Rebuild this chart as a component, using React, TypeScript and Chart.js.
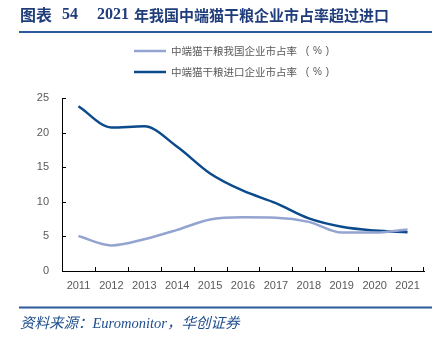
import React, { useEffect, useRef } from "react";
import { Chart, registerables } from "chart.js";

Chart.register(...registerables);

const TITLE_LABEL_CN = "图表";
const TITLE_LABEL_NUM = "54";
const TITLE_YEAR = "2021";
const TITLE_TEXT = "年我国中端猫干粮企业市占率超过进口";
const SOURCE_TEXT = "资料来源：Euromonitor，华创证券";

const years = ["2011", "2012", "2013", "2014", "2015", "2016", "2017", "2018", "2019", "2020", "2021"];
const domesticName = "中端猫干粮我国企业市占率";
const importName = "中端猫干粮进口企业市占率";
const unitParts = ["(", "%", ")"];
const domesticShare = [5.05, 3.7, 4.6, 5.95, 7.45, 7.75, 7.7, 7.1, 5.55, 5.55, 6.0];
const importShare = [23.8, 20.75, 20.9, 17.95, 14.1, 11.6, 9.8, 7.6, 6.4, 5.85, 5.6];
const yTicks = [0, 5, 10, 15, 20, 25];

const DARK = "#0b4a8b";
const LIGHT = "#94a4d1";
const NAVY = "#1f3d7a";
const GRAY = "#595959";

const decorPlugin = {
  id: "decor",
  afterDraw(chart: any) {
    const ctx = chart.ctx;
    const area = chart.chartArea;
    const xs = chart.scales.x;
    const ys = chart.scales.y;
    ctx.save();
    // title
    ctx.fillStyle = NAVY;
    ctx.textBaseline = "middle";
    ctx.textAlign = "left";
    ctx.font = "bold 16px 'Noto Sans CJK SC'";
    ctx.fillText(TITLE_LABEL_CN, 20, 15);
    ctx.font = "bold 16px 'Liberation Serif'";
    ctx.fillText(TITLE_LABEL_NUM, 62, 15);
    ctx.fillText(TITLE_YEAR, 97, 15);
    ctx.font = "bold 15px 'Noto Sans CJK SC'";
    ctx.fillText(TITLE_TEXT, 134, 15);
    ctx.strokeStyle = "#2a5a9a";
    ctx.lineWidth = 2;
    ctx.beginPath();
    ctx.moveTo(19, 32);
    ctx.lineTo(432, 32);
    ctx.stroke();
    // footer
    ctx.beginPath();
    ctx.moveTo(19, 307.5);
    ctx.lineTo(432, 307.5);
    ctx.stroke();
    ctx.fillStyle = "#1f4e8c";
    ctx.font = "italic 14.5px 'Liberation Serif', 'Noto Sans CJK SC'";
    ctx.fillText(SOURCE_TEXT, 20, 324);
    // legend
    const items = chart.data.datasets;
    const rows = [51, 72];
    items.forEach((ds: any, i: number) => {
      const y = rows[i];
      ctx.strokeStyle = ds.borderColor;
      ctx.lineWidth = 2.5;
      ctx.beginPath();
      ctx.moveTo(134, y);
      ctx.lineTo(166, y);
      ctx.stroke();
      ctx.fillStyle = GRAY;
      ctx.textAlign = "left";
      ctx.font = "10.5px 'Noto Sans CJK SC'";
      ctx.fillText(ds.label, 171, y + 0.5);
      ctx.textAlign = "center";
      ctx.font = "10px 'Liberation Sans'";
      const cx = [307.5, 317.5, 327.5];
      unitParts.forEach((p, k) => ctx.fillText(p, cx[k], y + 0.5));
    });
    // tick marks
    ctx.strokeStyle = "#000";
    ctx.lineWidth = 1;
    ctx.beginPath();
    yTicks.forEach((v) => {
      const py = Math.round(ys.getPixelForValue(v)) + 0.5;
      ctx.moveTo(area.left, py);
      ctx.lineTo(area.left + 4, py);
    });
    for (let i = 0; i < years.length - 1; i++) {
      const px = Math.round((xs.getPixelForTick(i) + xs.getPixelForTick(i + 1)) / 2) + 0.5;
      ctx.moveTo(px, area.bottom);
      ctx.lineTo(px, area.bottom - 4);
    }
    const rx = Math.round(area.right) - 0.5;
    ctx.moveTo(rx, area.bottom);
    ctx.lineTo(rx, area.bottom - 4);
    ctx.stroke();
    ctx.restore();
  },
};

export default function App() {
  const ref = useRef<HTMLCanvasElement>(null);
  useEffect(() => {
    if (!ref.current) return;
    const chart = new Chart(ref.current, {
      type: "line",
      data: {
        labels: years,
        datasets: [
          {
            label: domesticName,
            data: domesticShare,
            borderColor: LIGHT,
            backgroundColor: LIGHT,
            borderWidth: 2.5,
            pointRadius: 0,
            cubicInterpolationMode: "monotone",
          },
          {
            label: importName,
            data: importShare,
            borderColor: DARK,
            backgroundColor: DARK,
            borderWidth: 2.5,
            pointRadius: 0,
            cubicInterpolationMode: "monotone",
          },
        ],
      },
      options: {
        responsive: false,
        animation: false,
        layout: { padding: { top: 98, left: 0, right: 22, bottom: 39 } },
        plugins: {
          legend: { display: false },
          tooltip: { enabled: false },
          title: { display: false },
        },
        scales: {
          x: {
            offset: true,
            grid: { display: false, drawTicks: false },
            border: { display: true, color: "#000", width: 1 },
            ticks: {
              color: GRAY,
              font: { family: "'Liberation Sans', Arial", size: 11 },
              padding: 8,
              maxRotation: 0,
              autoSkip: false,
            },
            afterFit: (s: any) => {
              s.height = 30;
            },
          },
          y: {
            min: 0,
            max: 25,
            grid: { display: false, drawTicks: false },
            border: { display: true, color: "#000", width: 1 },
            ticks: {
              stepSize: 5,
              color: GRAY,
              font: { family: "'Liberation Sans', Arial", size: 11 },
              padding: 13,
            },
            afterFit: (s: any) => {
              s.width = 62;
            },
          },
        },
      },
      plugins: [decorPlugin],
    });
    return () => chart.destroy();
  }, []);
  return (
    <div style={{ position: "fixed", left: 0, top: 0, width: 446, height: 340, background: "#fff" }}>
      <canvas ref={ref} width={446} height={340} />
    </div>
  );
}
